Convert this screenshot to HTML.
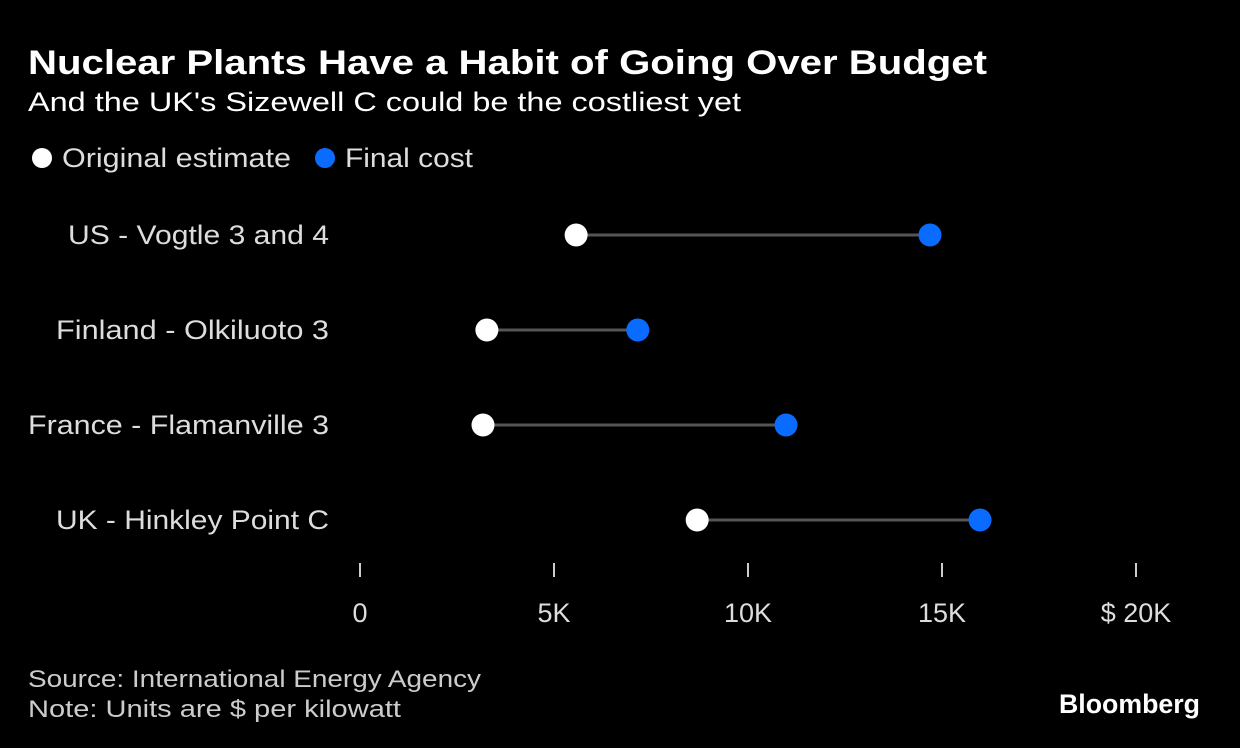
<!DOCTYPE html>
<html><head><meta charset="utf-8"><style>
html,body{margin:0;padding:0;background:#000;}
svg{display:block;font-family:"Liberation Sans",sans-serif;}
</style></head><body>
<svg width="1240" height="748" viewBox="0 0 1240 748">
<rect width="1240" height="748" fill="#000"/>
<text x="28" y="74" fill="#fff" font-size="34" font-weight="bold" textLength="959" lengthAdjust="spacingAndGlyphs">Nuclear Plants Have a Habit of Going Over Budget</text>
<text x="28" y="111" fill="#fff" font-size="27" textLength="713" lengthAdjust="spacingAndGlyphs">And the UK's Sizewell C could be the costliest yet</text>
<g>
<circle cx="42" cy="158" r="10" fill="#fff"/>
<text x="62" y="167" fill="#ddd" font-size="27" textLength="229" lengthAdjust="spacingAndGlyphs">Original estimate</text>
<circle cx="325" cy="158" r="10" fill="#0a6cff"/>
<text x="345" y="167" fill="#ddd" font-size="27" textLength="128" lengthAdjust="spacingAndGlyphs">Final cost</text>
</g>
<g id="plot"></g>
<text x="28" y="687" fill="#ccc" font-size="24" textLength="453" lengthAdjust="spacingAndGlyphs">Source: International Energy Agency</text>
<text x="28" y="717" fill="#ccc" font-size="24" textLength="373" lengthAdjust="spacingAndGlyphs">Note: Units are $ per kilowatt</text>
<text x="1200" y="713" fill="#fff" font-size="27" font-weight="bold" text-anchor="end" textLength="141" lengthAdjust="spacingAndGlyphs">Bloomberg</text>
</svg>
<script>
const categories = ["US - Vogtle 3 and 4", "Finland - Olkiluoto 3", "France - Flamanville 3", "UK - Hinkley Point C"];
const originalEstimate = [5.57, 3.27, 3.17, 8.69];
const finalCost = [14.69, 7.16, 10.98, 15.98];
const tickValues = [0, 5, 10, 15, 20];
const tickLabels = ["0", "5K", "10K", "15K", "$ 20K"];
const labelWidths = [261, 273, 301, 273];

const NS = "http://www.w3.org/2000/svg";
const g = document.getElementById("plot");
const x = v => 360 + v * 38.8;
const y = i => 235 + i * 95;
function mk(tag, attrs) {
  const e = document.createElementNS(NS, tag);
  for (const k in attrs) e.setAttribute(k, attrs[k]);
  g.appendChild(e);
  return e;
}
tickValues.forEach((t, i) => {
  const l = mk("line", {x1: x(t), x2: x(t), y1: 563, y2: 577, stroke: "#ccc", "stroke-width": 2});
  
  
  const tx = mk("text", {x: x(t), y: 622, fill: "#ddd", "font-size": 27, "text-anchor": "middle"});
  tx.textContent = tickLabels[i];
  
  
});
categories.forEach((c, i) => {
  const lab = mk("text", {x: 329, y: y(i) + 9, fill: "#ddd", "font-size": 27, "text-anchor": "end", textLength: labelWidths[i], lengthAdjust: "spacingAndGlyphs"});
  lab.textContent = c;
  
  
  const ln = mk("line", {x1: x(originalEstimate[i]), x2: x(finalCost[i]), y1: y(i), y2: y(i), stroke: "#555", "stroke-width": 3});
  
  
  const a = mk("circle", {cx: x(originalEstimate[i]), cy: y(i), r: 11.5, fill: "#fff"});
  
  
  const b = mk("circle", {cx: x(finalCost[i]), cy: y(i), r: 11.5, fill: "#0a6cff"});
  
  
});
</script>
</body></html>
